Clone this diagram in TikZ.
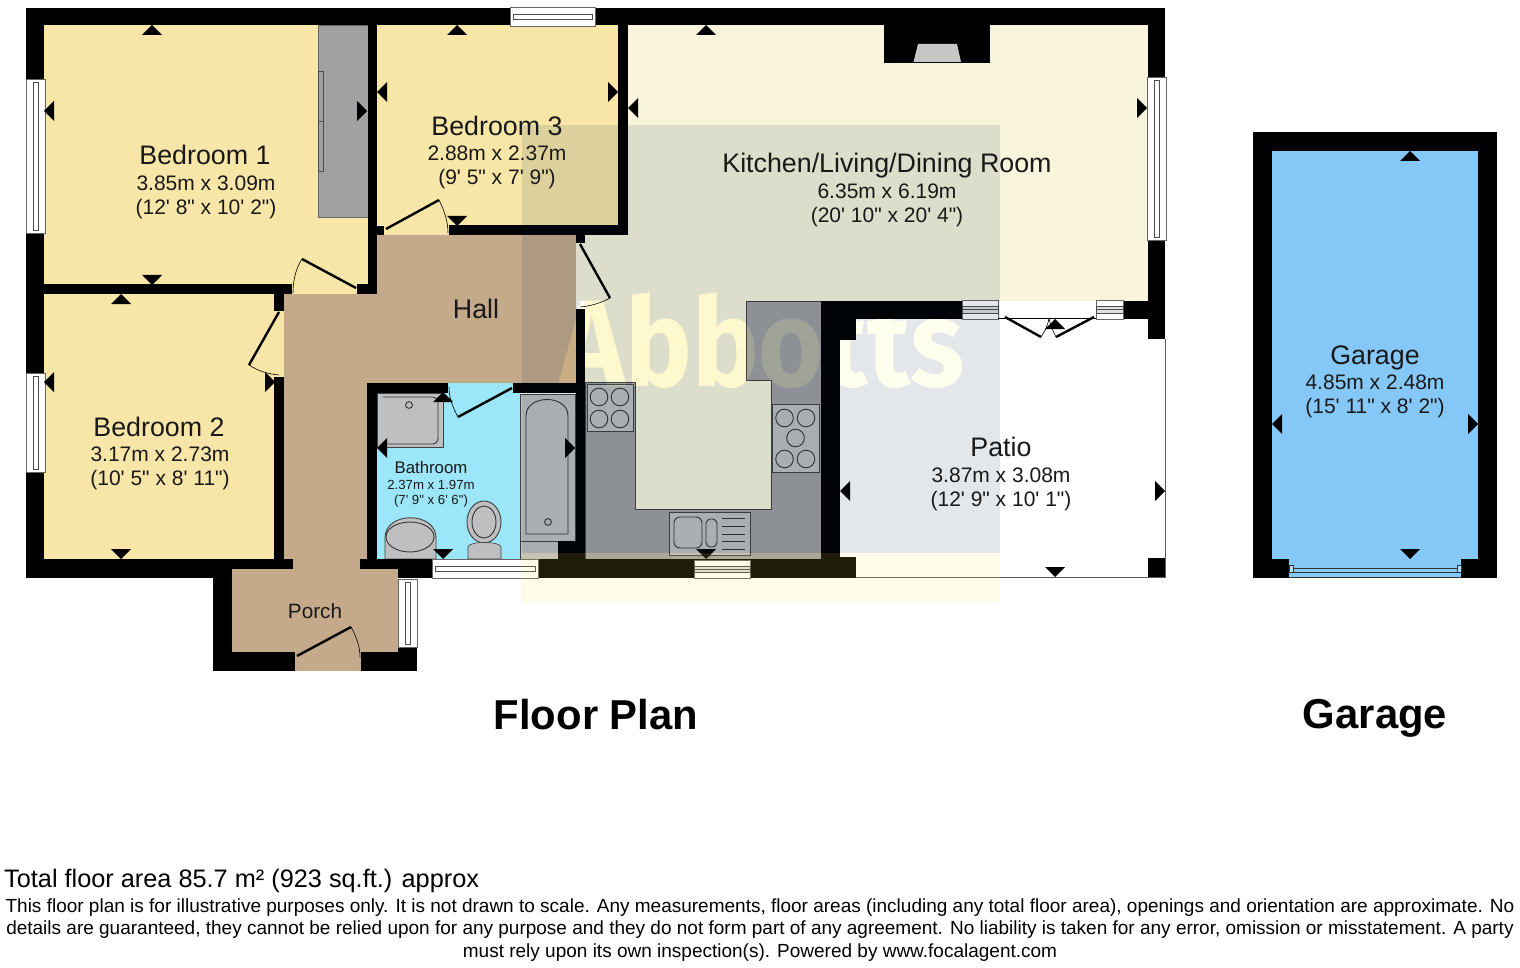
\documentclass[tikz,border=0pt]{standalone}
\usepackage{fontspec}
\setmainfont{Liberation Sans}[Ligatures=TeXOff]
\newfontfamily\markfont{Fira Sans}
\usepackage{tikz}
\usetikzlibrary{calc}
\usetikzlibrary{positioning}

\definecolor{bedyellow}{HTML}{F8E6A8}
\definecolor{hallbrown}{HTML}{C4A98A}
\definecolor{kitcream}{HTML}{F9F4DC}
\definecolor{bathblue}{HTML}{9BE6F8}
\definecolor{garblue}{HTML}{85C8F8}
\definecolor{unitgrey}{HTML}{9F9FA0}
\definecolor{fitgrey}{HTML}{BEBFC0}
\definecolor{robegrey}{HTML}{A0A1A3}

\tikzset{
    wall/.style={fill=black},
    floorbed/.style={fill=bedyellow},
    floorhall/.style={fill=hallbrown},
    floorkit/.style={fill=kitcream},
    fitting/.style={fill=fitgrey, draw=black!75, line width=0.9pt},
    fitline/.style={draw=black!80, line width=0.9pt},
    winframe/.style={fill=white, draw=black!60, line width=0.6pt},
    winline/.style={draw=black!70, line width=0.7pt},
    leaf/.style={draw=black, line width=2.4pt},
    swing/.style={draw=black, line width=0.6pt},
    roomtitle/.style={font=\fontsize{26.8}{30}\selectfont, inner sep=0pt, text=black!90},
    roomdim/.style={font=\fontsize{21}{24}\selectfont, align=center, inner sep=0pt, text=black!90},
    plantitle/.style={font=\fontsize{41.8}{46}\selectfont\bfseries, inner sep=0pt},
    smallprint/.style={font=\fontsize{19}{22.2}\selectfont, inner sep=0pt},
}

\newcommand{\tipup}[2]{\fill (#1,#2) -- ++(-10,10) -- ++(20,0) -- cycle;}
\newcommand{\tipdn}[2]{\fill (#1,#2) -- ++(-10,-10) -- ++(20,0) -- cycle;}
\newcommand{\tiplf}[2]{\fill (#1,#2) -- ++(10,-10) -- ++(0,20) -- cycle;}
\newcommand{\tiprt}[2]{\fill (#1,#2) -- ++(-10,-10) -- ++(0,20) -- cycle;}
\newcommand{\winh}[4]{\draw[winframe] (#1,#2) rectangle (#3,#4);
    \draw[winline] (#1+3,#2+7) rectangle (#3-3,#4-7);}
\newcommand{\winv}[4]{\draw[winframe] (#1,#2) rectangle (#3,#4);
    \draw[winline] (#1+7,#2+3) rectangle (#3-7,#4-3);}
\newcommand{\winsmall}[4]{\draw[winframe] (#1,#2) rectangle (#3,#4);
    \draw[winline, fill=black!12] (#1,#2+6) rectangle (#3,#4-6);
    \draw[winline] (#1,#2+9) -- (#3,#2+9);}
\newcommand{\burner}[2]{\draw[fitline] (#1,#2) circle (8.8);}

\begin{document}
\begin{tikzpicture}[x=1pt, y=-1pt]
\useasboundingbox (0,0) rectangle (1520,968);
\fill[white] (0,0) rectangle (1520,968);

% floors
\fill[floorbed] (44,25) rectangle (368,284);
\fill[floorbed] (292,284) rectangle (357,294);
\fill[floorbed] (44,294) rectangle (284,559);
\fill[floorbed] (377,25) rectangle (618,225);
\fill[floorbed] (384,225) rectangle (449,235);
\fill[floorhall] (377,235) -- (576,235) -- (576,383) -- (367,383) -- (367,559) -- (360,559)
    -- (360,569) -- (293,569) -- (293,559) -- (284,559) -- (284,294) -- (377,294) -- cycle;
\fill[floorhall] (232,569) rectangle (398,652);
\fill[floorhall] (295,652) rectangle (361,671);
\fill[floorkit] (628,25) rectangle (1148,301);
\fill[floorkit] (576,235) rectangle (628,301);
\fill[floorkit] (585,301) rectangle (821,559);
\fill[fill=bathblue] (377,393) rectangle (520,559);
\fill[fill=bathblue] (448,383) rectangle (513,393);
\fill[fill=garblue] (1272,151) rectangle (1478,577);

% fitted units
\draw[fill=unitgrey, draw=black!75, line width=0.9pt] (585,382) -- (635,382) -- (635,509) -- (771,509) -- (771,380)
    -- (746,380) -- (746,301) -- (821,301) -- (821,559) -- (585,559) -- cycle;
\draw[fill=robegrey, draw=black!60, line width=0.6pt] (318,25) rectangle (368,217);
\draw[winline] (318,71) rectangle (323,171);
\draw[winline] (318,121) -- (323,121);
\draw[fitting] (587,384) rectangle (633,431);
\burner{599}{397} \burner{620}{397} \burner{599}{419} \burner{620}{419}
\draw[fitting] (772,404) rectangle (819,472);
\burner{784.5}{418} \burner{806}{418} \burner{795.5}{438} \burner{784.5}{459} \burner{806}{459}
\draw[fitting] (669,512) rectangle (750,555);
\draw[fitline, rounded corners=6pt] (674,517) rectangle (702,548);
\draw[fitline, rounded corners=4.5pt] (706,519) rectangle (717,547);
\foreach \liney in {518,526,534,541,549}
    \draw[fitline] (722,\liney) -- (745,\liney);
\draw[fitting] (377,393) rectangle (443,447);
\draw[fitline, rounded corners=5pt] (383,397) -- (438,397) -- (438,444) -- (383,444);
\draw[fitline] (409,405) circle (3.4);
\draw[fitting] (520,394) rectangle (575,541);
\draw[fitline] (526,534) -- (526,416) .. controls (526,394) and (568,394) .. (568,416) -- (568,534) -- cycle;
\draw[fitline] (548,522) circle (3.4);
\draw[fitting, line width=0.6pt] (520,541) rectangle (558,559);
\draw[fitting] (385,559) -- (385,538) .. controls (385,511) and (436,511) .. (436,538) -- (436,559) -- cycle;
\draw[fitline] (410,537) ellipse (24 and 15);
\draw[fitting] (484,522) ellipse (17 and 21);
\draw[fitline] (484,522) ellipse (12 and 16);
\draw[fitting, line width=0.6pt] (468,559) -- (468,547) .. controls (468,541) and (501,541) .. (501,547) -- (501,559) -- cycle;

% walls
\fill[wall] (26,8) rectangle (1165,25);
\fill[wall] (26,8) rectangle (44,578);
\fill[wall] (368,25) rectangle (377,294);
\fill[wall] (44,284) rectangle (292,294);
\fill[wall] (357,284) rectangle (377,294);
\fill[wall] (274,294) rectangle (284,311);
\fill[wall] (274,377) rectangle (284,559);
\fill[wall] (618,25) rectangle (628,235);
\fill[wall] (449,225) rectangle (628,235);
\fill[wall] (377,226) rectangle (384,235);
\fill[wall] (576,235) rectangle (585,243);
\fill[wall] (576,309) rectangle (585,578);
\fill[wall] (367,383) rectangle (448,393);
\fill[wall] (367,383) rectangle (377,559);
\fill[wall] (513,383) rectangle (576,393);
\fill[wall] (558,541) rectangle (585,559);
\fill[wall] (26,559) rectangle (293,569);
\fill[wall] (26,569) rectangle (232,578);
\fill[wall] (360,559) rectangle (432,569);
\fill[wall] (398,569) rectangle (432,578);
\fill[wall] (213,569) rectangle (232,671);
\fill[wall] (213,652) rectangle (295,671);
\fill[wall] (361,652) rectangle (417,671);
\fill[wall] (398,647) rectangle (417,652);
\fill[wall] (538,559) rectangle (856,578);
\fill[wall] (821,301) rectangle (840,578);
\fill[wall] (821,301) rectangle (962,319);
\fill[wall] (840,319) rectangle (856,340);
\fill[wall] (840,557) rectangle (856,578);
\fill[wall] (1123,301) rectangle (1165,319);
\fill[wall] (1148,8) rectangle (1165,339);
\fill[wall] (1148,558) rectangle (1165,577);
\fill[wall] (884,25) rectangle (990,63);
\fill[fill=black!22] (913.5,62) -- (918,44) -- (957,44) -- (961,62) -- cycle;
% garage walls
\fill[wall] (1253,132) rectangle (1497,151);
\fill[wall] (1253,132) rectangle (1272,578);
\fill[wall] (1478,132) rectangle (1497,578);
\fill[wall] (1253,559) rectangle (1289,578);
\fill[wall] (1461,559) rectangle (1497,578);

% patio edge
\draw[draw=black!65, line width=0.9pt] (1165,339) -- (1165,577) -- (856,577);

% windows
\winv{26}{79}{45}{233}
\winh{510}{7}{595}{26}
\winv{1147}{77}{1166}{240}
\winv{26}{373}{45}{472}
\winv{398}{579}{417}{647}
\winh{432}{559}{538}{578}
\winsmall{694}{560}{750}{578}
\winsmall{962}{300}{998}{319}
\winsmall{1096}{300}{1123}{319}
\draw[draw=black!80, line width=0.8pt] (1289,568) -- (1461,568) (1289,572) -- (1461,572) (1289,577) -- (1461,577);
\draw[draw=black!80, fill=garblue!60!white, line width=0.6pt] (1289,565) rectangle (1293,572);
\draw[draw=black!80, fill=garblue!60!white, line width=0.6pt] (1457,565) rectangle (1461,572);

% doors
\draw[leaf] (356,288) -- (302,259);
\draw[swing] (302,259) .. controls (296,268) and (293,280) .. (293,293);
\draw[leaf] (279,312) -- (249,365);
\draw[swing] (249,365) .. controls (258,371) and (268,374) .. (279,375);
\draw[leaf] (386,229) -- (439,200);
\draw[swing] (439,200) .. controls (444,210) and (448,221) .. (448,233);
\draw[leaf] (580,244) -- (610,298);
\draw[swing] (610,298) .. controls (601,303) and (591,306) .. (580,307);
\draw[leaf] (512,388) -- (458,417);
\draw[swing] (458,417) .. controls (453,408) and (449,398) .. (449,387);
\draw[leaf] (297,656) -- (351,627);
\draw[swing] (351,627) .. controls (356,636) and (360,646) .. (360,657);
\draw[leaf] (1005,317) -- (1041,337);
\draw[leaf] (1094,317) -- (1056,337);
\draw[swing] (998,318) -- (1096,318);
\draw[swing] (1041,337) .. controls (1045,331) and (1048,325) .. (1049,318);
\draw[swing] (1056,337) .. controls (1053,331) and (1050,325) .. (1049,318);

% view markers
\tipup{152}{25} \tiplf{44}{111} \tiprt{367}{111} \tipdn{152}{285}
\tipup{121}{294} \tiplf{44}{382} \tiprt{275}{382} \tipdn{121}{559}
\tipup{457}{25} \tiplf{377}{92} \tiprt{618}{92} \tipdn{457}{226}
\tipup{706}{25} \tiplf{628}{108} \tiprt{1147}{108} \tipdn{706}{559}
\tipup{443}{392} \tiplf{377}{448} \tiprt{575}{448} \tipdn{443}{559}
\tipup{1055}{319} \tiplf{840}{491} \tiprt{1165}{491} \tipdn{1055}{577}
\tipup{1410}{151} \tiplf{1272}{424} \tiprt{1478}{424} \tipdn{1410}{559}

% watermark
\fill[fill={rgb,255:red,0;green,40;blue,70}, fill opacity=0.11] (522,125) rectangle (1000,553);
\fill[fill={rgb,255:red,255;green,240;blue,80}, fill opacity=0.12] (522,553) rectangle (1000,603);
\begin{scope}[blend mode=color dodge]
\node[inner sep=0pt, text={rgb,255:red,33;green,28;blue,4}, font=\markfont\bfseries\fontsize{112}{112}\selectfont, transform shape, yscale=1.1]
    (mark) at (762,341) {Abbotts};
\end{scope}

% labels
\node[roomtitle] (bedone)     at ( 205, 155 ) {Bedroom 1};
\node[roomdim]   (bedonedim)  at ( 206, 197 ) {3.85m x 3.09m\\(12' 8" x 10' 2")};
\node[roomtitle] (bedtwo)     at ( 159, 427 ) {Bedroom 2};
\node[roomdim]   (bedtwodim)  at ( 160, 468 ) {3.17m x 2.73m\\(10' 5" x 8' 11")};
\node[roomtitle] (bedthree)   at ( 497, 126 ) {Bedroom 3};
\node[roomdim]   (bedthreedim) at ( 497, 167 ) {2.88m x 2.37m\\(9' 5" x 7' 9")};
\node[roomtitle] (kitchen)    at ( 887, 166 ) {Kitchen/Living/Dining Room};
\node[roomdim]   (kitchendim) at ( 887, 205 ) {6.35m x 6.19m\\(20' 10" x 20' 4")};
\node[roomtitle] (hall)       at ( 476, 309 ) {Hall};
\node[roomtitle, font=\fontsize{16.8}{20}\selectfont] (bath) at ( 431, 467 ) {Bathroom};
\node[roomdim, font=\fontsize{13.2}{15.5}\selectfont] (bathdim) at ( 431, 494 ) {2.37m x 1.97m\\(7' 9" x 6' 6")};
\node[roomtitle, font=\fontsize{20.7}{24}\selectfont] (porch) at ( 315, 611 ) {Porch};
\node[roomtitle] (patio)      at ( 1001, 447 ) {Patio};
\node[roomdim]   (patiodim)   at ( 1001, 489 ) {3.87m x 3.08m\\(12' 9" x 10' 1")};
\node[roomtitle] (garage)     at ( 1375, 358 ) {Garage};
\node[roomdim]   (garagedim)  at ( 1375, 396 ) {4.85m x 2.48m\\(15' 11" x 8' 2")};
\node[plantitle] (floorplan)  at ( 596, 715 ) {Floor Plan};
\node[plantitle] (garageplan) at ( 1375, 718.5 ) {Garage};

\node[smallprint, anchor=west, font=\fontsize{25.3}{28}\selectfont] (total) at ( 4, 881 ) {Total floor area 85.7 m² (923 sq.ft.) approx};
\node[smallprint, align=center] (notice) at ( 760, 930 ) {This floor plan is for illustrative purposes only. It is not drawn to scale. Any measurements, floor areas (including any total floor area), openings and orientation are approximate. No\\details are guaranteed, they cannot be relied upon for any purpose and they do not form part of any agreement. No liability is taken for any error, omission or misstatement. A party\\must rely upon its own inspection(s). Powered by www.focalagent.com};
\end{tikzpicture}
\end{document}
